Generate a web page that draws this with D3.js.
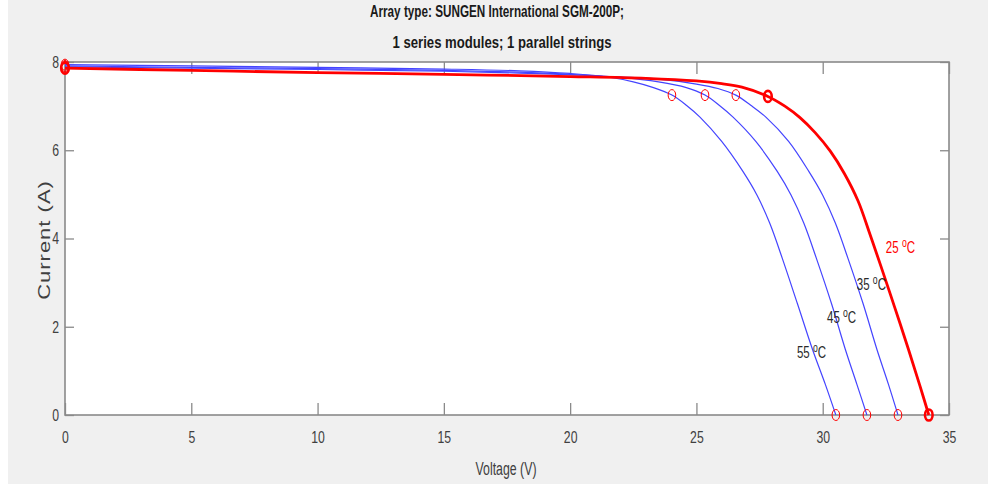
<!DOCTYPE html>
<html>
<head>
<meta charset="utf-8">
<script src="https://cdn.jsdelivr.net/npm/d3@7"></script>
<style>
  body { margin: 0; background: #fff; }
  svg { display: block; }
</style>
</head>
<body>
<svg id="chart"></svg>
<script>
const width = 988;
const height = 490;

// values
const temps = ["25", "35", "45", "55"];

const v25 = [0, 5, 10, 15, 20, 23, 25, 26, 26.8, 27.83, 28.5, 29.1, 29.7, 30.3, 30.85, 31.4, 31.85, 32.3, 32.85, 33.4, 33.85, 34.2];
const i25 = [7.86, 7.81, 7.76, 7.72, 7.67, 7.63, 7.57, 7.51, 7.43, 7.22, 7.00, 6.74, 6.40, 5.98, 5.48, 4.85, 4.13, 3.38, 2.44, 1.48, 0.66, 0];

const v35 = [0, 5, 10, 15, 18, 20, 22, 23.5, 25.0, 25.85, 26.56, 27.15, 27.75, 28.65, 29.45, 30.0, 30.5, 31.0, 31.6, 32.15, 32.6, 32.98];
const i35 = [7.89, 7.86, 7.83, 7.79, 7.75, 7.71, 7.66, 7.61, 7.50, 7.40, 7.25, 7.02, 6.75, 6.20, 5.52, 4.98, 4.35, 3.55, 2.52, 1.48, 0.70, 0];

const v45 = [0, 5, 10, 15, 18, 20, 22, 23.5, 24.6, 25.34, 25.9, 26.45, 27.35, 28.2, 28.75, 29.25, 29.75, 30.35, 30.9, 31.35, 31.75];
const i45 = [7.91, 7.88, 7.85, 7.81, 7.77, 7.72, 7.65, 7.55, 7.42, 7.25, 7.02, 6.75, 6.20, 5.52, 4.98, 4.35, 3.55, 2.52, 1.48, 0.70, 0];

const v55 = [0, 5, 10, 15, 18, 20, 21.5, 22.5, 23.3, 24.03, 24.6, 25.14, 26.0, 26.84, 27.4, 27.9, 28.4, 29.0, 29.6, 30.1, 30.52];
const i55 = [7.94, 7.91, 7.88, 7.84, 7.80, 7.74, 7.66, 7.55, 7.42, 7.25, 7.02, 6.75, 6.20, 5.52, 4.98, 4.35, 3.55, 2.52, 1.48, 0.70, 0];

// marked points: short circuit, max power, open circuit
const iscI = [7.86, 7.89, 7.91, 7.94];
const mppV = [27.83, 26.56, 25.34, 24.03];
const mppI = [7.22, 7.25, 7.25, 7.25];
const vocV = [34.2, 32.98, 31.75, 30.52];

// curve label anchors (left edge, baseline)
const labelV = [32.5, 31.35, 30.17, 28.98];
const labelI = [3.67, 2.83, 2.09, 1.29];

const xTicks = [0, 5, 10, 15, 20, 25, 30, 35];
const yTicks = [0, 2, 4, 6, 8];

const titleLines = ["Array type: SUNGEN International SGM-200P;", "1 series modules; 1 parallel strings"];
const xLabel = "Voltage (V)";
const yLabel = "Current (A)";

const red = "#ff0000";
const blue = "#4444ff";
const frameColor = "#8a8a8a";
const textColor = "#404040";
const font = "'Liberation Sans', Arial, sans-serif";
const squeeze = 0.72; // the picture's text is narrow

const plot = { left: 65, right: 949, top: 62, bottom: 415 };

var svg = d3.select("#chart")
  .attr("width", width)
  .attr("height", height);

// figure background
svg.append("rect")
  .attr("x", 8).attr("y", 0)
  .attr("width", width - 8).attr("height", 484)
  .style("fill", "#f0f0f0");

svg.append("rect")
  .attr("x", plot.left).attr("y", plot.top)
  .attr("width", plot.right - plot.left).attr("height", plot.bottom - plot.top)
  .style("fill", "#fff");

var x = d3.scaleLinear().domain([0, 35]).range([plot.left, plot.right]);
var y = d3.scaleLinear().domain([0, 8]).range([plot.bottom, plot.top]);

function styleAxis(g) {
  g.select(".domain").remove();
  g.selectAll(".tick line").style("stroke", frameColor).style("stroke-width", 1.3);
  g.selectAll(".tick text")
    .style("font-family", font)
    .style("font-size", "17px")
    .style("fill", textColor);
}

// bottom axis, ticks pointing in
var gx = svg.append("g")
  .attr("transform", `translate(0,${plot.bottom})`)
  .call(d3.axisBottom(x).tickValues(xTicks).tickSizeInner(-12).tickSizeOuter(0).tickPadding(16));
styleAxis(gx);
gx.selectAll(".tick text").attr("transform", `scale(${squeeze},1)`);

svg.append("g")
  .attr("transform", `translate(0,${plot.top})`)
  .call(d3.axisTop(x).tickValues(xTicks).tickSizeInner(-12).tickSizeOuter(0).tickFormat(""))
  .call(styleAxis);

var gy = svg.append("g")
  .attr("transform", `translate(${plot.left},0)`)
  .call(d3.axisLeft(y).tickValues(yTicks).tickSizeInner(-9).tickSizeOuter(0).tickPadding(6));
styleAxis(gy);
gy.selectAll(".tick text")
  .attr("x", -6 / squeeze)
  .attr("transform", `scale(${squeeze},1)`);

svg.append("g")
  .attr("transform", `translate(${plot.right},0)`)
  .call(d3.axisRight(y).tickValues(yTicks).tickSizeInner(-9).tickSizeOuter(0).tickFormat(""))
  .call(styleAxis);

// frame
svg.append("rect")
  .attr("x", plot.left).attr("y", plot.top)
  .attr("width", plot.right - plot.left).attr("height", plot.bottom - plot.top)
  .style("fill", "none")
  .style("stroke", frameColor)
  .style("stroke-width", 1.6);

// curves
var curves = [
  { t: temps[0], v: v25, i: i25, color: red, w: 2.8 },
  { t: temps[1], v: v35, i: i35, color: blue, w: 1.2 },
  { t: temps[2], v: v45, i: i45, color: blue, w: 1.2 },
  { t: temps[3], v: v55, i: i55, color: blue, w: 1.2 }
];

var line = d3.line()
  .x(d => x(d[0]))
  .y(d => y(d[1]))
  .curve(d3.curveCatmullRom.alpha(0.5));

// blue first, red on top
var drawOrder = [3, 2, 1, 0];
drawOrder.forEach(k => {
  var c = curves[k];
  svg.append("path")
    .datum(c.v.map((v, j) => [v, c.i[j]]))
    .attr("d", line)
    .style("fill", "none")
    .style("stroke", c.color)
    .style("stroke-width", c.w)
    .style("stroke-linejoin", "round");
});

// markers
drawOrder.forEach(k => {
  var pts = [[0, iscI[k]], [mppV[k], mppI[k]], [vocV[k], 0]];
  svg.append("g").selectAll("ellipse")
    .data(pts)
    .enter().append("ellipse")
    .attr("cx", d => x(d[0]))
    .attr("cy", d => y(d[1]))
    .attr("rx", 3.8)
    .attr("ry", 5.5)
    .style("fill", "none")
    .style("stroke", red)
    .style("stroke-width", k == 0 ? 2.6 : 1);
});

// curve labels: "25 °C" with a raised o
temps.forEach((t, k) => {
  var tx = svg.append("text")
    .attr("transform", `translate(${x(labelV[k])},${y(labelI[k])}) scale(${squeeze},1)`)
    .style("font-family", font)
    .style("font-size", "16px")
    .style("fill", k == 0 ? red : "#2a2a2a");
  tx.append("tspan").text(t + " ");
  tx.append("tspan").attr("dy", -6).style("font-size", "12px").text("o");
  tx.append("tspan").attr("dy", 6).text("C");
});

// title
svg.selectAll(".title")
  .data(titleLines)
  .enter().append("text")
  .attr("class", "title")
  .attr("x", (d, k) => k == 0 ? 497 : 502)
  .attr("y", (d, k) => 17 + k * 31)
  .attr("text-anchor", "middle")
  .attr("textLength", (d, k) => k == 0 ? 254 : 219)
  .attr("lengthAdjust", "spacingAndGlyphs")
  .style("font-family", font)
  .style("font-weight", "bold")
  .style("font-size", "17px")
  .style("fill", "#1a1a1a")
  .text(d => d);

// axis labels
svg.append("text")
  .attr("x", 506)
  .attr("y", 475)
  .attr("text-anchor", "middle")
  .attr("textLength", 61)
  .attr("lengthAdjust", "spacingAndGlyphs")
  .style("font-family", font)
  .style("font-size", "18px")
  .style("fill", textColor)
  .text(xLabel);

svg.append("text")
  .attr("transform", `translate(50,240) scale(0.75,1) rotate(-90)`)
  .attr("text-anchor", "middle")
  .style("font-family", font)
  .style("font-size", "22px")
  .style("letter-spacing", "1px")
  .style("fill", textColor)
  .text(yLabel);
</script>
</body>
</html>
